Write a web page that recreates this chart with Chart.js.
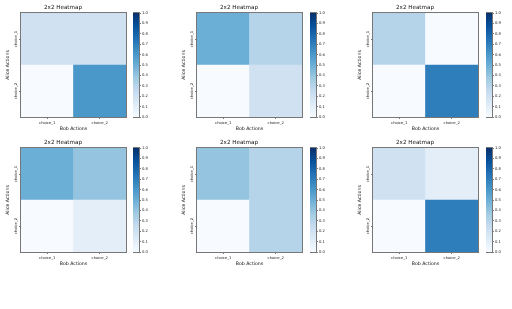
<!DOCTYPE html>
<html>
<head>
<meta charset="utf-8">
<script src="https://cdn.jsdelivr.net/npm/chart.js@4.4.1/dist/chart.umd.min.js"></script>
<style>
  body { margin: 0; background: #fff; }
  #fig { position: relative; width: 512px; height: 309px; overflow: hidden; }
  #fig canvas { position: absolute; }
</style>
</head>
<body>
<div id="fig"></div>
<script>
// categories
const bobChoices = ['choice_1', 'choice_2'];
const aliceChoices = ['choice_1', 'choice_2'];

// cell values, one array per heatmap, rows = Alice (choice_1, choice_2), cols = Bob
const game1 = [[0.2, 0.2], [0.0, 0.6]];
const game2 = [[0.5, 0.3], [0.0, 0.2]];
const game3 = [[0.3, 0.0], [0.0, 0.7]];
const game4 = [[0.5, 0.4], [0.0, 0.1]];
const game5 = [[0.4, 0.3], [0.0, 0.3]];
const game6 = [[0.2, 0.1], [0.0, 0.7]];
const games = [game1, game2, game3, game4, game5, game6];

// colorbar range
const cbMin = 0;
const cbMax = 1;
const cbStep = 0.1;

// matplotlib "Blues"
const blues = ['#f7fbff', '#deebf7', '#c6dbef', '#9ecae1', '#6baed6', '#4292c6', '#2171b5', '#08519c', '#08306b'];

function hexToRgb(h) {
  return [1, 3, 5].map(i => parseInt(h.substr(i, 2), 16));
}

function bluesColor(v) {
  const t = Math.min(Math.max((v - cbMin) / (cbMax - cbMin), 0), 1) * (blues.length - 1);
  const i = Math.min(Math.floor(t), blues.length - 2);
  const f = t - i;
  const a = hexToRgb(blues[i]);
  const b = hexToRgb(blues[i + 1]);
  const c = a.map((x, k) => Math.round(x + (b[k] - x) * f));
  return 'rgb(' + c.join(',') + ')';
}

const titleFont = { family: 'DejaVu Sans', size: 5.6, weight: 'normal' };
const labelFont = { family: 'DejaVu Sans', size: 4.67, weight: 'normal' };
const tickFont = { family: 'DejaVu Sans', size: 3.73, weight: 'normal' };

// box around the plot area (matplotlib spines)
const framePlugin = {
  id: 'frame',
  afterDatasetsDraw(chart) {
    const { ctx, chartArea: a } = chart;
    ctx.save();
    ctx.strokeStyle = '#777';
    ctx.lineWidth = 1;
    ctx.strokeRect(a.left - 0.5, a.top - 0.5, a.width + 1, a.height + 1);
    ctx.restore();
  }
};

const fig = document.getElementById('fig');

function makeCanvas(left, top, w, h) {
  const c = document.createElement('canvas');
  c.width = w;
  c.height = h;
  c.style.left = left + 'px';
  c.style.top = top + 'px';
  c.style.width = w + 'px';
  c.style.height = h + 'px';
  fig.appendChild(c);
  return c;
}

function drawHeatmap(cells, left, top) {
  const canvas = makeCanvas(left - 21, top - 13, 128, 135);
  new Chart(canvas, {
    type: 'bar',
    data: {
      labels: bobChoices,
      // bottom row (choice_2) first so it stacks underneath
      datasets: [1, 0].map(r => ({
        label: aliceChoices[r],
        data: bobChoices.map(() => 1),
        backgroundColor: cells[r].map(bluesColor),
        borderWidth: 0,
        barPercentage: 1,
        categoryPercentage: 1
      }))
    },
    options: {
      responsive: false,
      animation: false,
      events: [],
      layout: { padding: { right: 2 } },
      plugins: {
        legend: { display: false },
        tooltip: { enabled: false },
        title: {
          display: true,
          text: '2x2 Heatmap',
          color: '#111',
          font: titleFont,
          padding: { top: 4.3, bottom: 2 }
        }
      },
      scales: {
        x: {
          stacked: true,
          grid: { drawOnChartArea: false, offset: false, tickLength: 2, tickWidth: 0.7, color: '#444' },
          border: { display: false },
          ticks: { font: tickFont, color: '#222', padding: 1.5, maxRotation: 0 },
          title: { display: true, text: 'Bob Actions', color: '#111', font: labelFont, padding: { top: 0, bottom: 3.2 } },
          afterFit: s => { s.height = 18; }
        },
        y: {
          stacked: true,
          min: 0,
          max: 2,
          afterBuildTicks: s => { s.ticks = aliceChoices.map((_, i) => ({ value: i + 0.5 })); },
          grid: { drawOnChartArea: false, tickLength: 2, tickWidth: 0.7, color: '#444' },
          border: { display: false },
          ticks: {
            font: tickFont,
            color: '#222',
            minRotation: 90,
            maxRotation: 90,
            crossAlign: 'center',
            padding: -4.7,
            callback: v => aliceChoices[aliceChoices.length - 1 - Math.floor(v)]
          },
          title: { display: true, text: 'Alice Actions', color: '#111', font: labelFont, padding: { top: 5.2, bottom: 0 } },
          afterFit: s => { s.width = 21; }
        }
      }
    },
    plugins: [framePlugin]
  });
}

function drawColorbar(left, top) {
  const canvas = makeCanvas(left, top - 13, 22, 135);
  new Chart(canvas, {
    type: 'bar',
    data: {
      labels: [''],
      datasets: [{
        data: [[cbMin, cbMax]],
        backgroundColor: c => {
          const a = c.chart.chartArea;
          if (!a) return blues[4];
          const g = c.chart.ctx.createLinearGradient(0, a.bottom, 0, a.top);
          blues.forEach((col, i) => g.addColorStop(i / (blues.length - 1), col));
          return g;
        },
        borderWidth: 0,
        barPercentage: 1,
        categoryPercentage: 1
      }]
    },
    options: {
      responsive: false,
      animation: false,
      events: [],
      layout: { padding: { top: 13, bottom: 18 } },
      plugins: { legend: { display: false }, tooltip: { enabled: false } },
      scales: {
        x: { display: false },
        y: {
          position: 'right',
          min: cbMin,
          max: cbMax,
          grid: { drawOnChartArea: false, tickLength: 2, tickWidth: 0.7, color: '#444' },
          border: { display: false },
          ticks: { stepSize: cbStep, autoSkip: false, font: tickFont, color: '#222', padding: 1, callback: v => v.toFixed(1) },
          afterFit: s => { s.width = 16; }
        }
      }
    },
    plugins: [framePlugin]
  });
}

// subplot placement: plot-area left edges, colorbar left edges, plot-area tops
const plotLefts = [21, 197, 373];
const cbLefts = [133, 310, 486];
const rowTops = [13, 148];

games.forEach((g, i) => {
  const col = i % 3;
  const row = Math.floor(i / 3);
  drawHeatmap(g, plotLefts[col], rowTops[row]);
  drawColorbar(cbLefts[col], rowTops[row]);
});
</script>
</body>
</html>
